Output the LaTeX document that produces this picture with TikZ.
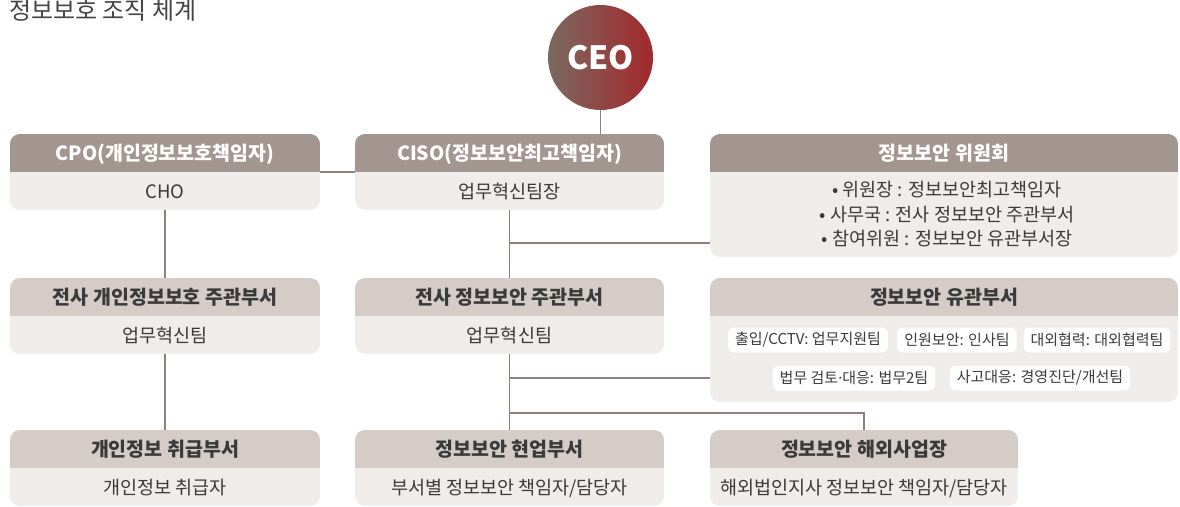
\documentclass[tikz,border=0pt]{standalone}
\usepackage{fontspec}
\setmainfont{Noto Sans CJK KR}
\newfontfamily\latinf{Noto Sans}
\usetikzlibrary{fit,backgrounds}
\definecolor{hdrdark}{HTML}{A39690}
\definecolor{hdrlight}{HTML}{D5CCC8}
\definecolor{bodyc}{HTML}{EFECEA}
\definecolor{linec}{HTML}{8E817C}
\definecolor{txt}{HTML}{3A3A3A}
\definecolor{titlec}{HTML}{444444}
\definecolor{ceoL}{HTML}{7A6962}
\definecolor{ceoR}{HTML}{A3282A}
\newcommand\orgbox[6]{%
  \begin{scope}
    \clip[rounded corners=10pt] (#2,#3) rectangle (#4,#5);
    \fill[bodyc] (#2,#3) rectangle (#4,#5);
    \fill[#6] (#2,#3) rectangle (#4,#3+38);
  \end{scope}
  \node[fit={(#2,#3) (#4,#5)}, inner sep=0pt] (#1) {};
}
\tikzset{
  htw/.style={anchor=base, font=\bfseries\fontsize{19.5}{22}\selectfont, text=white},
  htd/.style={anchor=base, font=\bfseries\fontsize{19.5}{22}\selectfont, text=txt},
  bt/.style={anchor=base, font=\fontsize{18.5}{22}\selectfont, text=txt},
  pill/.style={fill=white, rounded corners=6pt, minimum height=25pt, inner xsep=7pt, inner ysep=0pt, font=\fontsize{15}{18}\selectfont, text=txt},
  conn/.style={draw=linec, line width=1.2pt},
}
\begin{document}
\begin{tikzpicture}[x=1pt,y=-1pt]
\useasboundingbox (0,0) rectangle (1180,506);
% title
\node[anchor=base west, font=\fontsize{24}{28}\selectfont, text=titlec, inner sep=0pt] (title) at (9,19) {정보보호 조직 체계};
% CEO
\node[circle, minimum size=105pt, inner sep=0pt, left color=ceoL, right color=ceoR, text=white, font=\bfseries\fontsize{32}{36}\selectfont] (ceo) at (600.5,57.5) {CEO};
% row 1
\orgbox{cpo}{10}{134}{320}{210}{hdrdark}
\node[htw] (cpo-h) at (165,160) {CPO(개인정보보호책임자)};
\node[bt] (cpo-b) at (165,198) {CHO};
\orgbox{ciso}{355}{134}{664}{210}{hdrdark}
\node[htw] (ciso-h) at (509.5,160) {CISO(정보보안최고책임자)};
\node[bt] (ciso-b) at (509.5,198) {업무혁신팀장};
\orgbox{comm}{710}{134}{1178}{257}{hdrdark}
\node[htw] (comm-h) at (944,160) {정보보안 위원회};
\node[bt] (comm-b1) at (947,196) {• 위원장 : 정보보안최고책임자};
\node[bt] (comm-b2) at (947,221) {• 사무국 : 전사 정보보안 주관부서};
\node[bt] (comm-b3) at (947,245) {• 참여위원 : 정보보안 유관부서장};
% row 2
\orgbox{cpom}{10}{278}{320}{354}{hdrlight}
\node[htd] (cpom-h) at (165,304) {전사 개인정보보호 주관부서};
\node[bt] (cpom-b) at (165,342) {업무혁신팀};
\orgbox{isom}{355}{278}{664}{354}{hdrlight}
\node[htd] (isom-h) at (509.5,304) {전사 정보보안 주관부서};
\node[bt] (isom-b) at (509.5,342) {업무혁신팀};
\orgbox{rel}{710}{278}{1178}{402}{hdrlight}
\node[htd] (rel-h) at (944,304) {정보보안 유관부서};
\node[pill] (p1) at (808,340) {출입/CCTV: 업무지원팀};
\node[pill] (p2) at (957,340) {인원보안: 인사팀};
\node[pill] (p3) at (1097,340) {대외협력: 대외협력팀};
\node[pill] (p4) at (854,378) {법무 검토{\latinf ·}대응: 법무2팀};
\node[pill] (p5) at (1040,378) {사고대응: 경영진단/개선팀};
% row 3
\orgbox{cpoh}{10}{430}{320}{506}{hdrlight}
\node[htd] (cpoh-h) at (165,456) {개인정보 취급부서};
\node[bt] (cpoh-b) at (165,494) {개인정보 취급자};
\orgbox{isoh}{355}{430}{664}{506}{hdrlight}
\node[htd] (isoh-h) at (509.5,456) {정보보안 현업부서};
\node[bt] (isoh-b) at (509.5,494) {부서별 정보보안 책임자/담당자};
\orgbox{ovs}{710}{430}{1018}{506}{hdrlight}
\node[htd] (ovs-h) at (864,456) {정보보안 해외사업장};
\node[bt] (ovs-b) at (864,494) {해외법인지사 정보보안 책임자/담당자};
% connectors
\coordinate (j1) at (509.5,243);
\coordinate (j2) at (509.5,378);
\coordinate (j3) at (509.5,413);
\begin{scope}[on background layer]
\draw[conn] (ceo.south) -- (ceo.south |- ciso.north);
\draw[conn] (cpo.east) -- (ciso.west);
\draw[conn] (cpo.south) -- (cpom.north);
\draw[conn] (cpom.south) -- (cpoh.north);
\draw[conn] (ciso.south) -- (isom.north);
\draw[conn] (isom.south) -- (isoh.north);
\draw[conn] (j1) -- (comm.west |- j1);
\draw[conn] (j2) -- (rel.west |- j2);
\draw[conn] (j3) -| (ovs.north);
\end{scope}
\end{tikzpicture}
\end{document}
